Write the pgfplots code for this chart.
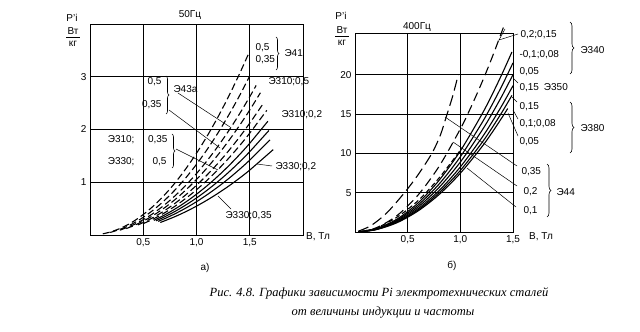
\documentclass[border=0pt]{standalone}
\usepackage{pgfplots}
\pgfplotsset{compat=1.18}
\usepackage{fontspec}
\setmainfont{Liberation Sans}
\newfontfamily\capfont{Liberation Serif}
\usetikzlibrary{decorations.pathreplacing}
\begin{document}
\begin{tikzpicture}[x=1pt,y=1pt]
\path[use as bounding box] (0,0) rectangle (640,332);
\pgfplotsset{myax/.style={scale only axis, anchor=south west,
  axis line style={line width=0.9pt}, grid=major,
  grid style={line width=0.6pt,black}, major tick length=0pt,
  tick label style={font=\fontsize{10}{11}\selectfont},
  /pgf/number format/assume math mode=true, clip=false,
  xtick={0.5,1,1.5}, xticklabels={{0,5},{1,0},{1,5}}},
  dsh/.style={black, line width=1.1pt, smooth, dash pattern=on 7pt off 3.5pt},
  sld/.style={black, line width=1.1pt, smooth}}
% ---------------- a) 50 Hz
\begin{axis}[myax, at={(90pt,97pt)}, width=213pt, height=211pt,
  xmin=0, xmax=2, ymin=0, ymax=4, ytick={1,2,3}]
\addplot[dsh] coordinates {(0.12,0.022) (0.2,0.062) (0.3,0.140) (0.4,0.248) (0.5,0.388) (0.6,0.558) (0.7,0.760) (0.8,0.992) (0.9,1.256) (1.0,1.550) (1.1,1.876) (1.2,2.232) (1.3,2.620) (1.4,3.038) (1.49,3.441)};
\addplot[dsh] coordinates {(0.19,0.048) (0.3,0.121) (0.4,0.214) (0.5,0.335) (0.6,0.482) (0.7,0.657) (0.8,0.858) (0.9,1.085) (1.0,1.340) (1.1,1.621) (1.2,1.930) (1.3,2.265) (1.4,2.626) (1.5,3.015)};
\addplot[dsh] coordinates {(0.28,0.091) (0.4,0.186) (0.5,0.291) (0.6,0.419) (0.7,0.571) (0.8,0.746) (0.9,0.944) (1.0,1.165) (1.1,1.410) (1.2,1.678) (1.3,1.969) (1.4,2.283) (1.5,2.621) (1.56,2.835)};
\addplot[dsh] coordinates {(0.34,0.122) (0.4,0.168) (0.5,0.263) (0.6,0.379) (0.7,0.516) (0.8,0.674) (0.9,0.853) (1.0,1.053) (1.1,1.274) (1.2,1.516) (1.3,1.780) (1.4,2.064) (1.5,2.369) (1.6,2.696)};
\addplot[dsh] coordinates {(0.45,0.191) (0.5,0.236) (0.6,0.339) (0.7,0.462) (0.8,0.603) (0.9,0.763) (1.0,0.942) (1.1,1.140) (1.2,1.356) (1.3,1.592) (1.4,1.846) (1.5,2.120) (1.62,2.472)};
\addplot[dsh] coordinates {(0.5,0.215) (0.6,0.309) (0.7,0.420) (0.8,0.549) (0.9,0.695) (1.0,0.858) (1.1,1.038) (1.2,1.236) (1.3,1.450) (1.4,1.682) (1.5,1.931) (1.66,2.364)};
\addplot[sld] coordinates {(0.6,0.278) (0.7,0.379) (0.8,0.495) (0.9,0.626) (1.0,0.773) (1.1,0.935) (1.2,1.113) (1.3,1.306) (1.4,1.515) (1.5,1.739) (1.67,2.156)};
\addplot[sld] coordinates {(0.62,0.270) (0.7,0.344) (0.8,0.449) (0.9,0.569) (1.0,0.702) (1.1,0.849) (1.2,1.011) (1.3,1.186) (1.4,1.376) (1.5,1.580) (1.68,1.981)};
\addplot[sld] coordinates {(0.64,0.258) (0.7,0.309) (0.8,0.404) (0.9,0.511) (1.0,0.631) (1.1,0.764) (1.2,0.909) (1.3,1.066) (1.4,1.237) (1.5,1.420) (1.69,1.802)};
\addplot[sld] coordinates {(0.66,0.238) (0.7,0.268) (0.8,0.350) (0.9,0.443) (1.0,0.547) (1.1,0.662) (1.2,0.788) (1.3,0.924) (1.4,1.072) (1.5,1.231) (1.72,1.618)};
\end{axis}
% ---------------- б) 400 Hz
\begin{axis}[myax, at={(355pt,100pt)}, width=158pt, height=199pt,
  xmin=0, xmax=1.5, ymin=0, ymax=25.3, ytick={5,10,15,20}]
\addplot[black, line width=1.1pt, smooth, dash pattern=on 11pt off 5pt] coordinates {(0.03,0.1) (0.15,0.8) (0.3,2.4) (0.47,5.0) (0.6,7.3) (0.73,10.0) (0.81,12.3) (0.87,14.8) (0.93,17.4) (0.98,20.0)};
\addplot[black, line width=1.1pt, smooth, dash pattern=on 9pt off 5pt] coordinates {(0.03,0.01) (0.2,0.52) (0.4,2.10) (0.6,4.72) (0.8,8.38) (1.0,13.1) (1.1,15.85) (1.2,18.86) (1.3,22.14) (1.42,26.41)};
\addplot[black, line width=1.1pt, smooth, dash pattern=on 5pt off 3pt] coordinates {(0.03,0.01) (0.2,0.5) (0.4,1.9) (0.6,4.0) (0.8,6.9) (1.0,10.4)};
\addplot[sld] coordinates {(0.03,0.009) (0.2,0.41) (0.4,1.65) (0.6,3.71) (0.8,6.60) (1.0,10.31) (1.2,14.85) (1.3,17.42) (1.4,20.21) (1.49,22.89)};
\addplot[sld] coordinates {(0.03,0.009) (0.2,0.38) (0.4,1.53) (0.6,3.44) (0.8,6.12) (1.0,9.56) (1.2,13.76) (1.3,16.15) (1.4,18.73) (1.5,21.50)};
\addplot[sld] coordinates {(0.03,0.008) (0.2,0.36) (0.4,1.42) (0.6,3.20) (0.8,5.69) (1.0,8.89) (1.2,12.80) (1.3,15.02) (1.4,17.42) (1.5,20.0)};
\addplot[sld] coordinates {(0.03,0.007) (0.2,0.33) (0.4,1.32) (0.6,2.98) (0.8,5.29) (1.0,8.27) (1.2,11.90) (1.3,13.97) (1.4,16.20) (1.5,18.60)};
\addplot[sld] coordinates {(0.03,0.007) (0.2,0.31) (0.4,1.25) (0.6,2.82) (0.8,5.01) (1.0,7.82) (1.2,11.26) (1.3,13.22) (1.4,15.33) (1.49,17.37)};
\addplot[sld] coordinates {(0.03,0.007) (0.2,0.30) (0.4,1.19) (0.6,2.69) (0.8,4.78) (1.0,7.47) (1.2,10.75) (1.3,12.62) (1.4,14.64) (1.45,15.70)};
\end{axis}
% ---------------- labels, a)
\begin{scope}[font=\fontsize{10}{11}\selectfont]
\node at (72,314) {P'i};
\node at (73,301) {Вт};
\draw[line width=0.6pt] (66,295) -- (80,295);
\node at (73,288) {кг};
\node at (190,317) {50Гц};
\node at (318,95) {В, Тл};
\node[anchor=west] at (252,284) {0,5};
\node[anchor=west] at (252,272) {0,35};
\draw[line width=0.6pt,decorate,decoration={brace,amplitude=3pt}] (276,295) -- (276,262);
\node[anchor=west] at (281,279) {Э41};
\node[anchor=east] at (165,250) {0,5};
\node[anchor=east] at (165,227) {0,35};
\draw[line width=0.6pt,decorate,decoration={brace,amplitude=3pt}] (166,256) -- (166,218);
\node[anchor=west] at (170,243) {Э43а};
\draw[line width=0.5pt] (178,239) -- (230,205);
\draw[line width=0.5pt] (169,222) -- (220,184);
\node[anchor=east] at (138,192) {Э310;};
\node[anchor=east] at (138,170) {Э330;};
\node[anchor=east] at (171,192) {0,35};
\node[anchor=east] at (170,170) {0,5};
\draw[line width=0.6pt,decorate,decoration={brace,amplitude=3pt}] (172,198) -- (172,164);
\draw[line width=0.5pt] (176,183) -- (218,162);
\node[anchor=west] at (265,250) {Э310;0,5};
\node[anchor=west] at (278,217) {Э310;0,2};
\node[anchor=west] at (272,165) {Э330;0,2};
\draw[line width=0.5pt] (257,168) -- (272,166);
\node[anchor=west] at (222,116) {Э330;0,35};
\draw[line width=0.5pt] (231,123) -- (218,136);
\node at (205,64) {а)};
% ---------------- labels, б)
\node at (341,316) {P'i};
\node at (342,302) {Вт};
\draw[line width=0.6pt] (335,296) -- (349,296);
\node at (342,289) {кг};
\node at (417,305) {400Гц};
\node at (541,95) {В, Тл};
\node[anchor=west] at (517,297) {0,2;0,15};
\draw[line width=0.5pt] (518,298) -- (499,292) -- (505,303);
\node[anchor=west] at (516,277) {-0,1;0,08};
\node[anchor=west] at (516,260) {0,05};
\node[anchor=west] at (516,244) {0,15\hspace{5pt}Э350};
\node[anchor=west] at (516,225) {0,15};
\node[anchor=west] at (516,208) {0,1;0,08};
\node[anchor=west] at (516,190) {0,05};
\draw[line width=0.5pt] (513,254) -- (518,249);
\draw[line width=0.5pt] (512,235) -- (517,230);
\draw[line width=0.5pt] (513,222) -- (518,213);
\draw[line width=0.5pt] (508,219) -- (518,196);
\draw[line width=0.6pt,decorate,decoration={brace,amplitude=4pt}] (570,310) -- (570,258);
\node[anchor=west] at (577,282) {Э340};
\draw[line width=0.6pt,decorate,decoration={brace,amplitude=4pt}] (570,230) -- (570,179);
\node[anchor=west] at (577,204) {Э380};
\node[anchor=west] at (518,160) {0,35};
\node[anchor=west] at (520,140) {0,2};
\node[anchor=west] at (520,121) {0,1};
\draw[line width=0.6pt,decorate,decoration={brace,amplitude=4pt}] (547,168) -- (547,115);
\node[anchor=west] at (553,140) {Э44};
\draw[line width=0.5pt] (445,215) -- (517,166);
\draw[line width=0.5pt] (453,190) -- (517,146);
\draw[line width=0.5pt] (467,164) -- (516,125);
\node at (452,66) {б)};
\end{scope}
% ---------------- caption
\node[font=\capfont\itshape\fontsize{12.5}{14}\selectfont] at (379,39) {Рис. 4.8. Графики зависимости Pi электротехнических сталей};
\node[font=\capfont\itshape\fontsize{12.5}{14}\selectfont] at (383,19) {от величины индукции и частоты};
\end{tikzpicture}
\end{document}
